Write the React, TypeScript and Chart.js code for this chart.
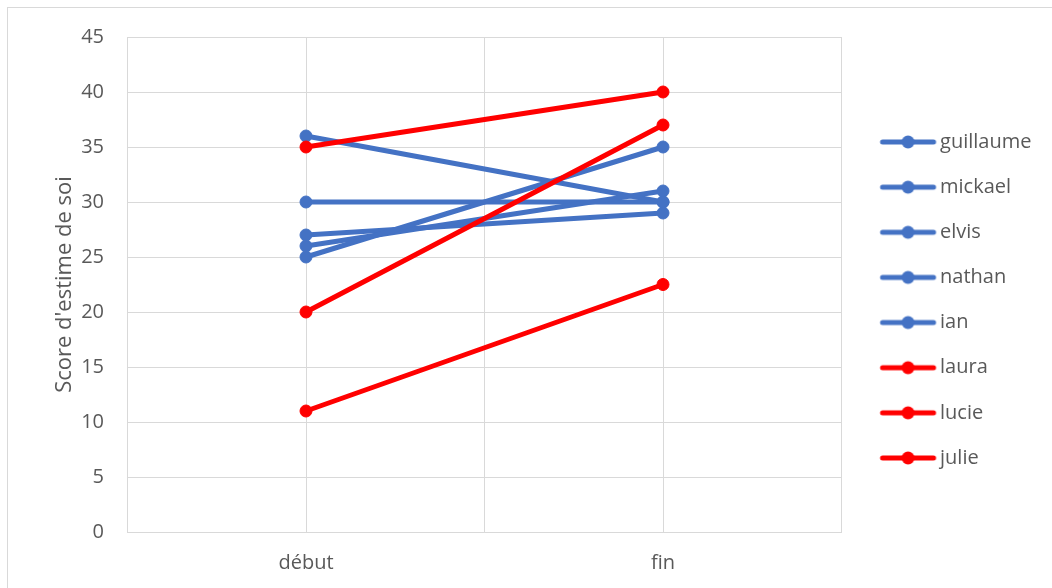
import { useEffect, useRef } from "react";
import { Chart, registerables } from "chart.js";

Chart.register(...registerables);

// Measurement moments (x axis) and the self-esteem score of each pupil
const categories = ["début", "fin"];
const names = ["guillaume", "mickael", "elvis", "nathan", "ian", "laura", "lucie", "julie"];
const guillaume = [36, 30];
const mickael = [30, 30];
const elvis = [27, 29];
const nathan = [26, 31];
const ian = [25, 35];
const laura = [35, 40];
const lucie = [20, 37];
const julie = [11, 22.5];
const seriesValues = [guillaume, mickael, elvis, nathan, ian, laura, lucie, julie];

const BLUE = "#4472C4";
const RED = "#FF0000";
const seriesColors = [BLUE, BLUE, BLUE, BLUE, BLUE, RED, RED, RED];

const yMin = 0;
const yMax = 45;
const yStep = 5;
const yTitle = "Score d'estime de soi";

const TEXT = "#595959";
const GRID = "#d9d9d9";
const FONT = "'Open Sans', sans-serif";

// Legend swatch: a short line with a dot in the middle (line-with-marker look)
function makeSwatch(color: string): HTMLCanvasElement {
  const c = document.createElement("canvas");
  c.width = 78;
  c.height = 16;
  const ctx = c.getContext("2d")!;
  ctx.strokeStyle = color;
  ctx.fillStyle = color;
  ctx.lineWidth = 5;
  ctx.lineCap = "round";
  ctx.beginPath();
  ctx.moveTo(23.2, 8);
  ctx.lineTo(74.2, 8);
  ctx.stroke();
  ctx.beginPath();
  ctx.arc(48.7, 8, 6.5, 0, Math.PI * 2);
  ctx.fill();
  return c;
}

export default function App() {
  const canvasRef = useRef<HTMLCanvasElement | null>(null);

  useEffect(() => {
    if (!canvasRef.current) return;
    const n = names.length;
    const datasets = names.map((name, i) => ({
      label: name,
      data: seriesValues[i].map((v, k) => ({ x: k, y: v })),
      borderColor: seriesColors[i],
      backgroundColor: seriesColors[i],
      borderWidth: 5,
      borderCapStyle: "round" as const,
      borderJoinStyle: "round" as const,
      pointRadius: 6,
      pointBorderWidth: 1,
      pointBackgroundColor: seriesColors[i],
      pointBorderColor: seriesColors[i],
      tension: 0,
      // later series are painted over earlier ones
      order: n - i,
    }));
    const swatches = seriesColors.map((c) => makeSwatch(c));

    const chart = new Chart(canvasRef.current, {
      type: "line",
      data: { datasets },
      options: {
        animation: false,
        responsive: false,
        events: [],
        layout: { padding: { left: 0, top: 29, right: 20.5, bottom: 0 } },
        scales: {
          x: {
            type: "linear",
            min: -0.5,
            max: 1.5,
            afterFit: (s: any) => {
              s.height = 56;
              s.paddingLeft = 0;
              s.paddingRight = 0;
            },
            ticks: {
              stepSize: 0.5,
              autoSkip: false,
              maxRotation: 0,
              padding: 19.5,
              color: TEXT,
              font: { family: FONT, size: 20 },
              callback: (v: any) => {
                const k = Number(v);
                return Number.isInteger(k) && categories[k] !== undefined ? categories[k] : "";
              },
            },
            grid: { color: GRID, lineWidth: 1, drawTicks: false },
            border: { display: true, color: GRID, width: 1 },
          },
          y: {
            min: yMin,
            max: yMax,
            afterFit: (s: any) => {
              s.width = 119.5;
              s.paddingTop = 0;
              s.paddingBottom = 0;
            },
            ticks: {
              stepSize: yStep,
              padding: 23.5,
              color: TEXT,
              font: { family: FONT, size: 20 },
            },
            grid: { color: GRID, lineWidth: 1, drawTicks: false },
            border: { display: false },
            title: {
              display: true,
              text: yTitle,
              color: TEXT,
              font: { family: FONT, size: 22 },
              padding: { top: 44, bottom: 0 },
            },
          },
        },
        plugins: {
          tooltip: { enabled: false },
          legend: {
            position: "right",
            align: "start",
            maxWidth: 190,
            // empty title used as top spacing for the legend column
            title: { display: true, text: "", padding: 0, font: { size: 20, lineHeight: "69.86px" } },
            labels: {
              usePointStyle: true,
              pointStyleWidth: 63.4,
              padding: 25.14,
              color: TEXT,
              font: { family: FONT, size: 20 },
              generateLabels: () =>
                names.map((name, i) => ({
                  text: name,
                  fillStyle: seriesColors[i],
                  strokeStyle: seriesColors[i],
                  lineWidth: 0,
                  pointStyle: swatches[i],
                  fontColor: TEXT,
                  hidden: false,
                  datasetIndex: i,
                })),
            },
          },
        },
      },
    } as any);

    return () => chart.destroy();
  }, []);

  return (
    <div
      style={{
        position: "fixed",
        left: 7,
        top: 7,
        width: 1100,
        height: 650,
        borderTop: `1px solid ${GRID}`,
        borderLeft: `1px solid ${GRID}`,
        background: "#fff",
      }}
    >
      <canvas ref={canvasRef} width={1044} height={580} style={{ display: "block" }} />
    </div>
  );
}
